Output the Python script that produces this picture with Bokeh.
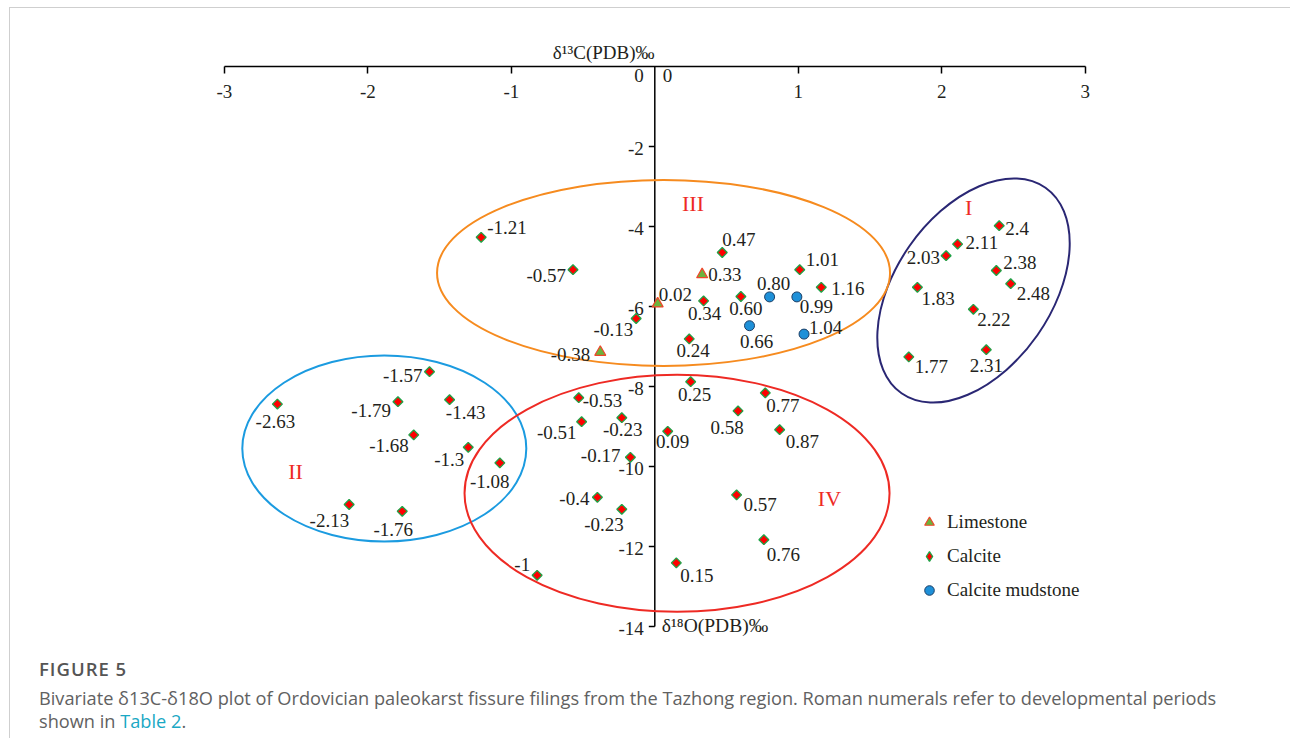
import math
from bokeh.plotting import figure
from bokeh.models import (Range1d, FixedTicker, ColumnDataSource, Legend,
                          LegendItem, Div)
from bokeh.layouts import column
from bokeh.embed import file_html
from bokeh.resources import INLINE
from bokeh.core.properties import value

# ---------------- data (delta13C on x, delta18O on y) ----------------
limestone_c13 = [0.33, 0.02, -0.38]
limestone_o18 = [-5.20, -5.93, -7.14]
limestone_lbl = ["0.33", "0.02", "-0.38"]

mudstone_c13 = [0.80, 0.99, 0.66, 1.04]
mudstone_o18 = [-5.76, -5.76, -6.48, -6.69]
mudstone_lbl = ["0.80", "0.99", "0.66", "1.04"]

calcite_c13 = [-1.21, -0.57, -0.13, 0.47, 1.01, 1.16, 0.34, 0.60, 0.24,
               -1.57, -2.63, -1.79, -1.43, -1.68, -1.30, -1.08, -2.13, -1.76,
               0.25, 0.77, -0.53, 0.58, -0.51, -0.23, 0.87, 0.09, -0.17, -0.40,
               -0.23, 0.57, 0.76, 0.15, -0.82,
               2.40, 2.11, 2.03, 2.38, 2.48, 1.83, 2.22, 2.31, 1.77]
calcite_o18 = [-4.27, -5.08, -6.30, -4.65, -5.08, -5.52, -5.86, -5.75, -6.81,
               -7.63, -8.44, -8.38, -8.33, -9.21, -9.52, -9.91, -10.95, -11.12,
               -7.88, -8.16, -8.28, -8.61, -8.88, -8.78, -9.08, -9.12, -9.77, -10.77,
               -11.07, -10.71, -11.83, -12.41, -12.72,
               -3.98, -4.44, -4.73, -5.10, -5.43, -5.52, -6.07, -7.08, -7.26]
calcite_lbl = ["-1.21", "-0.57", "-0.13", "0.47", "1.01", "1.16", "0.34", "0.60", "0.24",
               "-1.57", "-2.63", "-1.79", "-1.43", "-1.68", "-1.3", "-1.08", "-2.13", "-1.76",
               "0.25", "0.77", "-0.53", "0.58", "-0.51", "-0.23", "0.87", "0.09", "-0.17", "-0.4",
               "-0.23", "0.57", "0.76", "0.15", "-1",
               "2.4", "2.11", "2.03", "2.38", "2.48", "1.83", "2.22", "2.31", "1.77"]

x_ticks = [-3, -2, -1, 1, 2, 3]
x_tick_labels = ["-3", "-2", "-1", "1", "2", "3"]
y_ticks = [-2, -4, -6, -8, -10, -12, -14]
y_tick_labels = ["-2", "-4", "-6", "-8", "-10", "-12", "-14"]

group_names = ["I", "II", "III", "IV"]

# ---------------- label placement (layout only) ----------------
# (align, dx px, dy px; dy positive = down)
calcite_place = [("left", 6, -10), ("right", -7, 6), ("right", -3, 11), ("left", 0, -13),
                 ("left", 6, -10), ("left", 10, 1), ("center", 1, 13), ("center", 5, 12),
                 ("center", 4, 12),
                 ("right", -7, 4), ("center", -2, 17), ("right", -7, 9), ("center", 16, 13),
                 ("right", -5, 11), ("right", -4, 12), ("center", -10, 19), ("right", 0, 16),
                 ("center", -9, 18),
                 ("center", 4, 13), ("left", 1, 13), ("left", 4, 3), ("center", -11, 17),
                 ("right", -5, 11), ("center", 1, 12), ("left", 6, 12), ("center", 5, 10),
                 ("right", -10, -2), ("right", -8, 1), ("right", 2, 15), ("left", 7, 10),
                 ("left", 3, 15), ("left", 4, 13), ("right", -7, -11),
                 ("left", 6, 3), ("left", 8, -2), ("right", -6, 2), ("left", 7, -8),
                 ("left", 6, 10), ("left", 4, 11), ("left", 4, 10), ("center", 0, 16),
                 ("left", 6, 10)]
limestone_place = [("left", 6, 0), ("left", 1, -9), ("right", -10, 2)]
mudstone_place = [("center", 4, -13), ("left", 3, 10), ("center", 7, 16), ("left", 5, -7)]

# ---------------- geometry ----------------
PX_X = 143.5      # px per unit delta13C
PX_Y = 40.0       # px per unit delta18O
FIG_W, FIG_H = 1274, 642
TOP = 58
X0_FROM_LEFT = 644.3   # pixel of x=0 from frame left
x_start = -X0_FROM_LEFT / PX_X
x_end = x_start + FIG_W / PX_X
y_end = 0.0
y_start = -(FIG_H - TOP) / PX_Y

FONT = value("Liberation Serif")
TXT = "#231f20"

p = figure(width=FIG_W, height=FIG_H, x_range=Range1d(x_start, x_end),
           y_range=Range1d(y_start, y_end), x_axis_location="above",
           y_axis_location=None, toolbar_location=None, output_backend="svg",
           min_border_left=0, min_border_right=0, min_border_bottom=0,
           min_border_top=TOP, outline_line_color=None,
           background_fill_color="white", border_fill_color="white",
           title="δ¹³C(PDB)‰")
p.grid.visible = False
p.title.align = "right"
p.title.offset = 630
p.title.text_font = "Liberation Serif"
p.title.text_font_size = "19px"
p.title.text_font_style = "normal"
p.title.text_color = TXT
p.title.standoff = 8

ax = p.xaxis[0]
ax.ticker = FixedTicker(ticks=x_ticks)
ax.major_label_overrides = {t: s for t, s in zip(x_ticks, x_tick_labels)}
ax.bounds = (-3, 3)
ax.axis_line_color = "black"
ax.axis_line_width = 1.5
ax.major_tick_in = 7
ax.major_tick_out = 0
ax.major_tick_line_width = 1.5
ax.minor_tick_in = 0
ax.minor_tick_out = 0
ax.major_label_standoff = -31
ax.major_label_text_font = "Liberation Serif"
ax.major_label_text_font_size = "19px"
ax.major_label_text_color = TXT

# vertical axis at x = 0
p.segment(x0=[0], y0=[0], x1=[0], y1=[min(y_ticks)], line_color="black", line_width=1.5)
p.ray(x=[0] * len(y_ticks), y=y_ticks, length=6, length_units="screen",
      angle=math.pi, line_color="black", line_width=1.5)
p.text(x=[0] * len(y_ticks), y=y_ticks, text=y_tick_labels, x_offset=-11, y_offset=2,
       text_align="right", text_baseline="middle", text_font=FONT,
       text_font_size="19px", text_color=TXT)
p.text(x=[0, 0], y=[0, 0], text=["0", "0"], x_offset=[-11, 8], y_offset=9,
       text_align=["right", "left"], text_baseline="middle", text_font=FONT,
       text_font_size="19px", text_color=TXT)
p.text(x=[0], y=[min(y_ticks)], text=["δ¹⁸O(PDB)‰"], x_offset=7, y_offset=-1,
       text_align="left", text_baseline="middle", text_font=FONT,
       text_font_size="19.5px", text_color=TXT)

# group ellipses (screen-size outlines)
ell = ColumnDataSource(dict(
    x=[2.221, -1.885, 0.061, 0.155],
    y=[-5.60, -9.55, -5.16, -10.67],
    w=[251, 284, 453, 425],
    h=[156, 186, 186, 237],
    a=[math.radians(55), 0, 0, 0],
    c=["#2a2774", "#1b9be0", "#f68b1f", "#ee2a24"]))
p.ellipse(x="x", y="y", width="w", height="h", angle="a", width_units="screen",
          height_units="screen", fill_color=None, line_color="c", line_width=2, source=ell)

p.text(x=[2.188, -2.504, 0.266, 1.217], y=[-3.52, -10.12, -3.42, -10.80], text=group_names,
       text_align="center", text_baseline="middle", text_font=FONT,
       text_font_size="22px", text_color="#ee2a24")


def src(c, o, lbl, place):
    return ColumnDataSource(dict(x=c, y=o, lbl=lbl,
                                 al=[q[0] for q in place],
                                 dx=[q[1] for q in place],
                                 dy=[q[2] for q in place]))


s_lime = src(limestone_c13, limestone_o18, limestone_lbl, limestone_place)
s_mud = src(mudstone_c13, mudstone_o18, mudstone_lbl, mudstone_place)
s_cal = src(calcite_c13, calcite_o18, calcite_lbl, calcite_place)

CAL_FILL, CAL_LINE = "#ff0000", "#1fa347"
r_cal = p.scatter(x="x", y="y", source=s_cal, marker="square", angle=math.pi / 4, size=7,
                  fill_color=CAL_FILL, line_color=CAL_LINE, line_width=1.3)
r_lime = p.scatter(x="x", y="y", source=s_lime, marker="triangle", size=11,
                   fill_color="#6bb33c", line_color="#f0452a", line_width=1.2)
r_mud = p.scatter(x="x", y="y", source=s_mud, marker="circle", size=10,
                  fill_color="#1e90d8", line_color="#1d3f66", line_width=1)
# legend-only swatch for calcite (legend swatches are drawn unrotated); NaN = nothing plotted
r_cal_key = p.scatter(x=[math.nan], y=[math.nan], marker="diamond", size=10,
                      fill_color=CAL_FILL, line_color=CAL_LINE, line_width=1.3)

for s in (s_cal, s_lime, s_mud):
    p.text(x="x", y="y", text="lbl", x_offset="dx", y_offset="dy", text_align="al",
           text_baseline="middle", text_font=FONT, text_font_size="19px",
           text_color=TXT, source=s)

legend = Legend(items=[LegendItem(label="Limestone", renderers=[r_lime]),
                       LegendItem(label="Calcite", renderers=[r_cal_key]),
                       LegendItem(label="Calcite mudstone", renderers=[r_mud])],
                location=(907, 48), border_line_color=None, background_fill_alpha=0,
                padding=0, margin=0, spacing=10, glyph_width=24, glyph_height=24,
                label_height=20, label_standoff=6, label_text_font="Liberation Serif",
                label_text_font_size="19px", label_text_color=TXT,
                label_text_baseline="middle")
p.add_layout(legend)

caption = Div(width=FIG_W, text=(
    '<div style="font-family:\'Open Sans\'; color:#616161; padding-left:24px; margin-top:2px;">'
    '<div style="font-size:18.5px; font-weight:600; line-height:24px; margin-bottom:6px; '
    'letter-spacing:1px; color:#555;">FIGURE 5</div>'
    '<div style="font-size:18.2px; line-height:23px;">Bivariate δ13C-δ18O plot of Ordovician '
    'paleokarst fissure filings from the Tazhong region. Roman numerals refer to developmental '
    'periods<br>shown in <span style="color:#1aa8c4;">Table 2</span>.</div></div>'))

layout = column(p, caption, styles={"margin-top": "7px", "margin-left": "9px",
                                    "border-top": "1px solid #cfcfcf",
                                    "border-left": "1px solid #cfcfcf"})

open("out.html", "w").write(file_html(layout, INLINE))
